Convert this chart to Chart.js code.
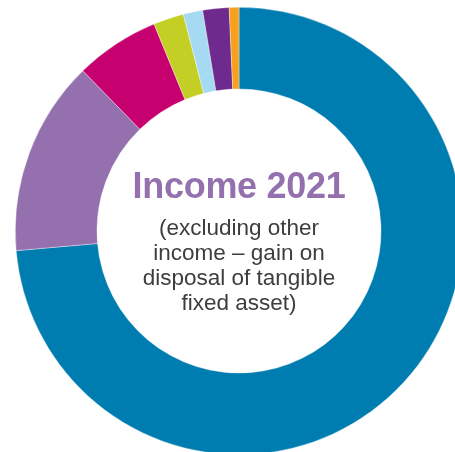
<!DOCTYPE html>
<html>
<head>
<meta charset="utf-8">
<script src="https://cdn.jsdelivr.net/npm/chart.js@4/dist/chart.umd.min.js"></script>
<style>
    html, body {
        margin: 0;
        padding: 0;
        width: 455px;
        height: 452px;
        overflow: hidden;
        background: #ffffff;
    }
    #wrap {
        position: relative;
        width: 455px;
        height: 452px;
        overflow: hidden;
    }
    #chart {
        position: absolute;
        left: 15px;
        top: 7px;
    }
    .title {
        position: absolute;
        left: 0;
        width: 478px;
        text-align: center;
        font-family: "Liberation Sans", Arial, sans-serif;
    }
    #heading {
        top: 166px;
        font-size: 36px;
        line-height: 40px;
        font-weight: bold;
        color: #9470ae;
        letter-spacing: -0.3px;
    }
    #sub {
        top: 215px;
        font-size: 22.5px;
        line-height: 25px;
        color: #3d3d3d;
    }
</style>
</head>
<body>
<div id="wrap">
    <canvas id="chart" width="448" height="448"></canvas>
    <div id="heading" class="title">Income 2021</div>
    <div id="sub" class="title">(excluding other<br>income – gain on<br>disposal of tangible<br>fixed asset)</div>
</div>
<script>
// 데이터 (그림에서 읽은 비율, %)
const categories = ['Segment 1', 'Segment 2', 'Segment 3', 'Segment 4', 'Segment 5', 'Segment 6', 'Segment 7'];
const shares = [73.6, 14.1, 6.1, 2.2, 1.4, 1.9, 0.7];
const colors = ['#007db0', '#9470ae', '#c6006f', '#c3cf25', '#a6d9f2', '#6e2a8d', '#f6a01c'];

const ctx = document.getElementById('chart').getContext('2d');

new Chart(ctx, {
    type: 'doughnut',
    data: {
        labels: categories,
        datasets: [{
            data: shares,
            backgroundColor: colors,
            borderColor: 'rgba(255, 255, 255, 0.6)',
            borderWidth: 0.6,
        }],
    },
    options: {
        responsive: false,
        animation: false,
        cutout: '63.5%',
        layout: { padding: 0 },
        plugins: {
            legend: { display: false },
            tooltip: { enabled: false },
        },
    },
});
</script>
</body>
</html>
